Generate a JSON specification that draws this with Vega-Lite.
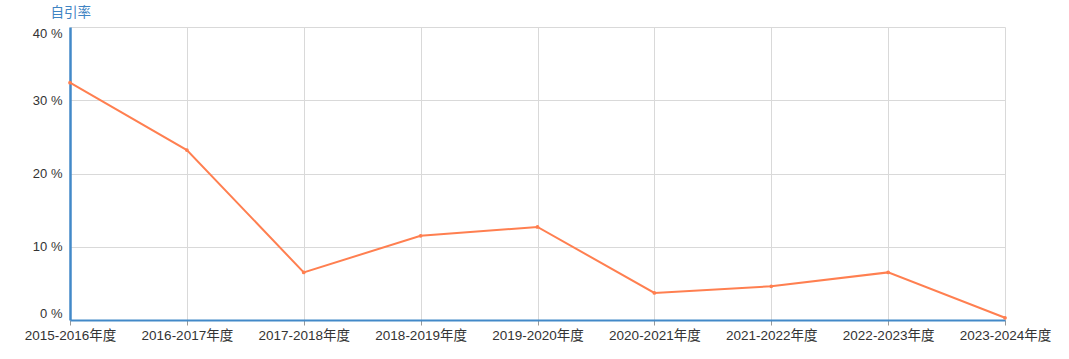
{
  "$schema": "https://vega.github.io/schema/vega-lite/v6.json",
  "width": 935,
  "height": 293,
  "autosize": {"type": "none"},
  "padding": {"left": 70, "top": 27, "right": 64, "bottom": 39},
  "background": "white",
  "config": {
    "view": {"stroke": null},
    "font": "Liberation Sans, Noto Sans CJK SC, sans-serif"
  },
  "data": {
    "values": [
      {"year": "2015-2016年度", "rate": 32.4},
      {"year": "2016-2017年度", "rate": 23.2},
      {"year": "2017-2018年度", "rate": 6.5},
      {"year": "2018-2019年度", "rate": 11.5},
      {"year": "2019-2020年度", "rate": 12.7},
      {"year": "2020-2021年度", "rate": 3.7},
      {"year": "2021-2022年度", "rate": 4.6},
      {"year": "2022-2023年度", "rate": 6.5},
      {"year": "2023-2024年度", "rate": 0.3}
    ]
  },
  "encoding": {
    "x": {
      "field": "year", "type": "ordinal", "sort": null,
      "scale": {"type": "point", "padding": 0},
      "axis": {
        "title": null, "labelAngle": 0, "labelFontSize": 13.5, "labelColor": "#333",
        "domainColor": "#4289c8", "domainWidth": 2,
        "tickColor": "#999", "tickSize": 5, "labelPadding": 3,
        "grid": true, "gridColor": "#d9d9d9", "gridWidth": 1
      }
    },
    "y": {
      "field": "rate", "type": "quantitative",
      "scale": {"domain": [0, 40], "nice": false},
      "axis": {
        "values": [0, 10, 20, 30, 40],
        "labelExpr": "datum.value + ' %'",
        "labelFontSize": 13, "labelColor": "#333", "labelPadding": 8,
        "labelFlush": true,
        "ticks": false,
        "domainColor": "#4289c8", "domainWidth": 2.5,
        "grid": true, "gridColor": "#d9d9d9", "gridWidth": 1,
        "title": "自引率", "titleAngle": 0, "titleAlign": "left", "titleBaseline": "bottom",
        "titleX": -20, "titleY": -8, "titleColor": "#3f84c3", "titleFontSize": 13.5, "titleFontWeight": "normal",
        "titleFont": "Noto Sans CJK SC"
      }
    }
  },
  "layer": [
    {"mark": {"type": "line", "color": "#ff7f50", "strokeWidth": 2}},
    {"mark": {"type": "point", "filled": true, "color": "#ff7f50", "size": 14, "opacity": 1}}
  ]
}
